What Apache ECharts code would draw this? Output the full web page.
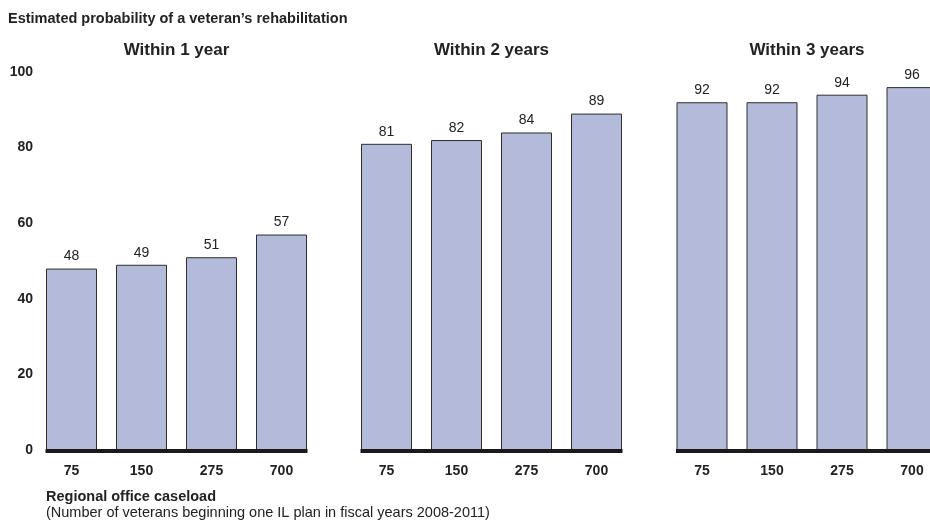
<!DOCTYPE html>
<html>
<head>
<meta charset="utf-8">
<script src="https://cdn.jsdelivr.net/npm/echarts@6/dist/echarts.min.js"></script>
<style>
html,body{margin:0;padding:0;background:#fff;}
#chart{width:930px;height:520px;}
</style>
</head>
<body>
<div id="chart"></div>
<script>
const categories = ['75', '150', '275', '700'];
const within1Year = [48, 49, 51, 57];
const within2Years = [81, 82, 84, 89];
const within3Years = [92, 92, 94, 96];
const panelTitles = ['Within 1 year', 'Within 2 years', 'Within 3 years'];
const panelValues = [within1Year, within2Years, within3Years];
const yMin = 0, yMax = 100, yInterval = 20;
const mainTitle = 'Estimated probability of a veteran\u2019s rehabilitation';
const xTitle = 'Regional office caseload';
const xSubtitle = '(Number of veterans beginning one IL plan in fiscal years 2008-2011)';

const FONT = '"Liberation Sans", Arial, sans-serif';
const gridLefts = [36.5, 351.5, 667];
const gridWidth = 280;
const gridTop = 72;
const gridHeight = 378;
const barWidth = 51;

const chart = echarts.init(document.getElementById('chart'), null, {renderer: 'canvas'});

const grids = [], xAxes = [], yAxes = [], series = [], titles = [];
titles.push({text: mainTitle, left: 8, top: 11, padding: 0, textStyle: {fontFamily: FONT, fontSize: 14.5, fontWeight: 'bold', color: '#222'}});
titles.push({text: xTitle, left: 46, top: 489.5, padding: 0, textStyle: {fontFamily: FONT, fontSize: 14.5, fontWeight: 'bold', color: '#222'}});
titles.push({text: xSubtitle, left: 46, top: 505.5, padding: 0, textStyle: {fontFamily: FONT, fontSize: 14.5, fontWeight: 'normal', color: '#222'}});

panelValues.forEach((vals, i) => {
  grids.push({left: gridLefts[i], top: gridTop, width: gridWidth, height: gridHeight, containLabel: false, outerBoundsMode: 'none'});
  titles.push({text: panelTitles[i], left: gridLefts[i] + gridWidth / 2, top: 41.5, padding: 0, textAlign: 'center',
    textStyle: {fontFamily: FONT, fontSize: 17, fontWeight: 'bold', color: '#222'}});
  xAxes.push({
    type: 'category', gridIndex: i, data: categories,
    axisLine: {show: false}, axisTick: {show: false},
    axisLabel: {fontFamily: FONT, fontSize: 14, fontWeight: 'bold', color: '#222', margin: 14}
  });
  yAxes.push({
    type: 'value', gridIndex: i, min: yMin, max: yMax, interval: yInterval,
    splitLine: {show: false}, axisLine: {show: false}, axisTick: {show: false},
    axisLabel: {show: i === 0, fontFamily: FONT, fontSize: 14, fontWeight: 'bold', color: '#222', margin: 3.5}
  });
  series.push({
    type: 'bar', xAxisIndex: i, yAxisIndex: i, data: vals, barWidth: barWidth,
    itemStyle: {color: '#b4bad9', borderColor: '#2e2e2e', borderWidth: 1},
    label: {show: true, position: 'top', distance: 5, fontFamily: FONT, fontSize: 14, color: '#222'},
    silent: true, animation: false
  });
});

chart.setOption({
  animation: false,
  title: titles,
  grid: grids,
  xAxis: xAxes,
  yAxis: yAxes,
  series: series
});

const lines = [];
panelValues.forEach((vals, i) => {
  const p0 = chart.convertToPixel({gridIndex: i}, [0, 0]);
  const p1 = chart.convertToPixel({gridIndex: i}, [categories.length - 1, 0]);
  lines.push({
    type: 'line', z: 100,
    shape: {x1: p0[0] - barWidth / 2 - 0.5, y1: p0[1] + 1, x2: p1[0] + barWidth / 2 + 0.5, y2: p0[1] + 1},
    style: {stroke: '#1a1a1a', lineWidth: 4}
  });
});
chart.setOption({graphic: lines});
</script>
</body>
</html>
